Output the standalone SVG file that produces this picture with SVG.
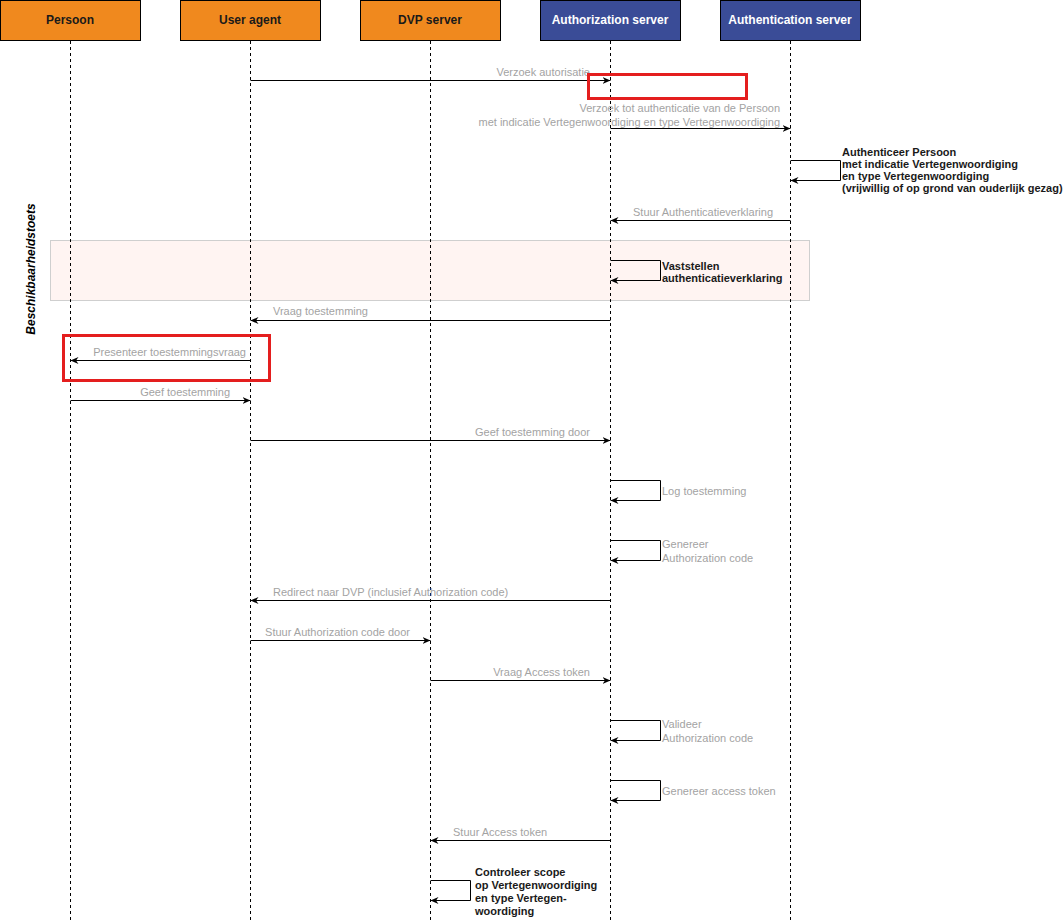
<svg xmlns="http://www.w3.org/2000/svg" width="1064" height="921" viewBox="0 0 1064 921">
<style>
.hdr{stroke:#000;stroke-width:1}
.org{fill:#F0891E}
.blu{fill:#3A4C97}
.ht{font-family:"Liberation Sans",Arial,sans-serif;font-size:12px;font-weight:bold;text-anchor:middle}
.life{stroke:#000;stroke-width:1;stroke-dasharray:3,3;fill:none}
.msg{stroke:#000;stroke-width:1;fill:none;marker-end:url(#arr)}
.lbl{font-family:"Liberation Sans",Arial,sans-serif;font-size:11px;fill:#A3A3A3}
.dk{font-family:"Liberation Sans",Arial,sans-serif;font-size:11px;font-weight:bold;fill:#1a1a1a}
.red{fill:none;stroke:#E41E1E;stroke-width:3}
</style>
<defs>
<marker id="arr" viewBox="0 0 8 8" markerWidth="8" markerHeight="8" refX="8" refY="4" orient="auto" markerUnits="userSpaceOnUse">
<path d="M0,0.5 L8,4 L0,7.5 L2.5,4 Z" fill="#000"/>
</marker>
</defs>
<rect width="1064" height="921" fill="#fff"/>

<g id="fragment-beschikbaarheidstoets">
<rect x="50.5" y="240.5" width="759" height="60" fill="#FFF4F2" stroke="#CFCFCF"/>
<text x="0" y="0" transform="translate(35,269) rotate(-90)" text-anchor="middle" font-family="Liberation Sans, Arial, sans-serif" font-size="12" font-weight="bold" font-style="italic" fill="#000">Beschikbaarheidstoets</text>
</g>

<g id="persoon">
<rect class="hdr org" x="0.5" y="0.5" width="140" height="40"/>
<text class="ht" x="70" y="24" fill="#1a1a1a">Persoon</text>
<line class="life" x1="70.5" y1="41" x2="70.5" y2="921"/>
</g>
<g id="user-agent">
<rect class="hdr org" x="180.5" y="0.5" width="140" height="40"/>
<text class="ht" x="250" y="24" fill="#1a1a1a">User agent</text>
<line class="life" x1="250.5" y1="41" x2="250.5" y2="921"/>
</g>
<g id="dvp-server">
<rect class="hdr org" x="360.5" y="0.5" width="140" height="40"/>
<text class="ht" x="430" y="24" fill="#1a1a1a">DVP server</text>
<line class="life" x1="430.5" y1="41" x2="430.5" y2="921"/>
</g>
<g id="authorization-server">
<rect class="hdr blu" x="540.5" y="0.5" width="140" height="40"/>
<text class="ht" x="610" y="24" fill="#fff">Authorization server</text>
<line class="life" x1="610.5" y1="41" x2="610.5" y2="921"/>
</g>
<g id="authentication-server">
<rect class="hdr blu" x="720.5" y="0.5" width="140" height="40"/>
<text class="ht" x="790" y="24" fill="#fff">Authentication server</text>
<line class="life" x1="790.5" y1="41" x2="790.5" y2="921"/>
</g>

<g id="connectors">
<path class="msg" d="M250.5,80.5 H610.5"/>
<path class="msg" d="M610.5,128.5 H790.5"/>
<path class="msg" d="M790.5,160.5 H840.5 V180.5 H790.5"/>
<path class="msg" d="M790.5,220.5 H610.5"/>
<path class="msg" d="M610.5,260.5 H660.5 V280.5 H610.5"/>
<path class="msg" d="M610.5,320.5 H250.5"/>
<path class="msg" d="M250.5,360.5 H70.5"/>
<path class="msg" d="M70.5,400.5 H250.5"/>
<path class="msg" d="M250.5,440.5 H610.5"/>
<path class="msg" d="M610.5,480.5 H660.5 V500.5 H610.5"/>
<path class="msg" d="M610.5,540.5 H660.5 V560.5 H610.5"/>
<path class="msg" d="M610.5,600.5 H250.5"/>
<path class="msg" d="M250.5,640.5 H430.5"/>
<path class="msg" d="M430.5,680.5 H610.5"/>
<path class="msg" d="M610.5,720.5 H660.5 V740.5 H610.5"/>
<path class="msg" d="M610.5,780.5 H660.5 V800.5 H610.5"/>
<path class="msg" d="M610.5,840.5 H430.5"/>
<path class="msg" d="M430.5,880.5 H470.5 V900.5 H430.5"/>
</g>

<g id="labels">
<text class="lbl" x="590" y="76" text-anchor="end">Verzoek autorisatie</text>
<text class="lbl" x="780" y="112" text-anchor="end">Verzoek tot authenticatie van de Persoon</text>
<text class="lbl" x="780" y="125.5" text-anchor="end">met indicatie Vertegenwoordiging en type Vertegenwoordiging</text>
<text class="dk" x="842" y="156">Authenticeer Persoon</text>
<text class="dk" x="842" y="168">met indicatie Vertegenwoordiging</text>
<text class="dk" x="842" y="180">en type Vertegenwoordiging</text>
<text class="dk" x="842" y="192">(vrijwillig of op grond van ouderlijk gezag)</text>
<text class="lbl" x="633" y="216">Stuur Authenticatieverklaring</text>
<text class="dk" x="662" y="270">Vaststellen</text>
<text class="dk" x="662" y="282">authenticatieverklaring</text>
<text class="lbl" x="273" y="315">Vraag toestemming</text>
<text class="lbl" x="246" y="355.5" text-anchor="end">Presenteer toestemmingsvraag</text>
<text class="lbl" x="230" y="395.5" text-anchor="end">Geef toestemming</text>
<text class="lbl" x="590" y="435.5" text-anchor="end">Geef toestemming door</text>
<text class="lbl" x="662" y="495">Log toestemming</text>
<text class="lbl" x="662" y="548">Genereer</text>
<text class="lbl" x="662" y="561.5">Authorization code</text>
<text class="lbl" x="273" y="595.5">Redirect naar DVP (inclusief Authorization code)</text>
<text class="lbl" x="410" y="635.5" text-anchor="end">Stuur Authorization code door</text>
<text class="lbl" x="590" y="675.5" text-anchor="end">Vraag Access token</text>
<text class="lbl" x="662" y="728">Valideer</text>
<text class="lbl" x="662" y="741.5">Authorization code</text>
<text class="lbl" x="662" y="795">Genereer access token</text>
<text class="lbl" x="453" y="835.5">Stuur Access token</text>
<text class="dk" x="475" y="875.5">Controleer scope</text>
<text class="dk" x="475" y="888.5">op Vertegenwoordiging</text>
<text class="dk" x="475" y="901.5">en type Vertegen-</text>
<text class="dk" x="475" y="914.5">woordiging</text>
</g>

<g id="highlights">
<rect class="red" x="588.5" y="74.5" width="158" height="24"/>
<rect class="red" x="63.5" y="335.5" width="206" height="45"/>
</g>
</svg>
